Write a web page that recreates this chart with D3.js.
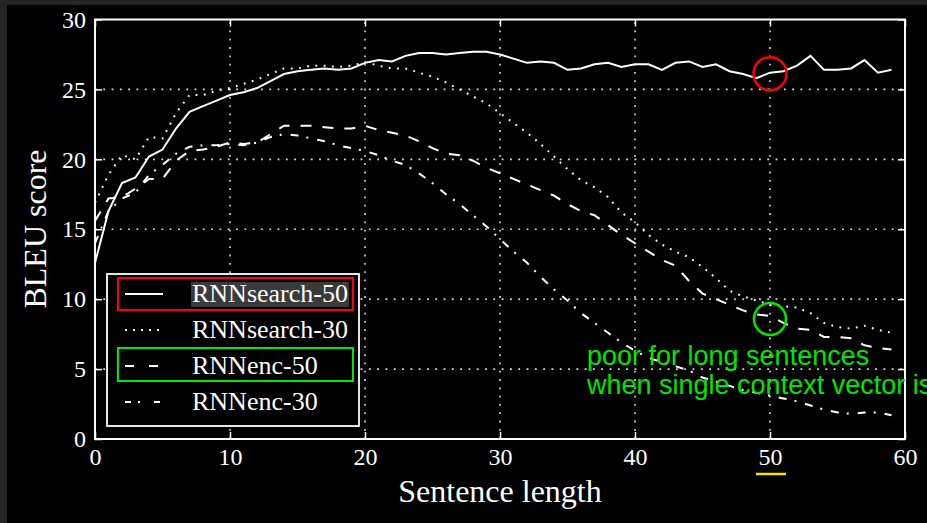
<!DOCTYPE html>
<html lang="en">
<head>
<meta charset="UTF-8">
<title>BLEU score vs sentence length</title>
<script src="https://d3js.org/d3.v7.min.js"></script>
<style>
  html, body { margin: 0; padding: 0; background: #252525; }
  svg { display: block; }
  .tick text { font-family: "Liberation Serif", serif; fill: #fff; }
</style>
</head>
<body>
<script>
// sentence lengths 0..59 and BLEU scores
const sentenceLength = d3.range(0, 60);
const rnnsearch50 = [12.6, 16.3, 18.3, 18.7, 20.2, 20.7, 22.2, 23.4, 23.8, 24.2,
  24.6, 24.8, 25.1, 25.6, 26.1, 26.3, 26.4, 26.5, 26.4, 26.5,
  26.9, 27.1, 27.0, 27.4, 27.6, 27.6, 27.5, 27.6, 27.7, 27.7,
  27.5, 27.2, 26.9, 27.0, 26.9, 26.4, 26.5, 26.8, 26.9, 26.6,
  26.8, 26.8, 26.4, 26.9, 27.0, 26.6, 26.8, 26.3, 26.1, 25.8,
  26.2, 26.3, 26.7, 27.4, 26.4, 26.4, 26.5, 27.1, 26.2, 26.4];
const rnnsearch30 = [16.9, 18.9, 20.3, 20.0, 21.6, 21.5, 23.3, 24.6, 24.6, 24.9,
  25.1, 25.4, 25.7, 26.1, 26.5, 26.5, 26.7, 26.7, 26.6, 26.7,
  26.95, 26.7, 26.5, 26.5, 26.2, 25.9, 25.5, 25.0, 24.5, 24.0,
  23.3, 22.6, 21.9, 21.1, 20.2, 19.3, 18.5, 18.0, 17.3, 16.2,
  15.5, 14.6, 13.9, 13.4, 13.0, 12.3, 11.5, 10.6, 10.2, 9.9,
  9.6, 9.5, 9.4, 9.0, 8.3, 8.0, 7.9, 8.1, 7.8, 7.6];
const rnnenc50 = [15.6, 17.2, 17.3, 17.9, 18.6, 18.6, 19.9, 20.6, 20.7, 20.9,
  21.2, 21.1, 21.2, 21.8, 22.4, 22.4, 22.4, 22.3, 22.2, 22.2,
  22.4, 22.1, 21.9, 21.7, 21.3, 20.8, 20.4, 20.3, 19.9, 19.4,
  19.0, 18.6, 18.2, 17.8, 17.4, 16.8, 16.3, 16.0, 15.3, 14.6,
  14.0, 13.4, 12.8, 12.4, 11.3, 10.4, 10.0, 9.6, 9.2, 8.9,
  8.8, 8.3, 7.9, 7.8, 7.3, 7.3, 7.2, 6.7, 6.5, 6.4];
const rnnenc30 = [14.0, 16.3, 17.2, 17.6, 18.9, 19.6, 20.4, 20.9, 21.0, 21.0,
  21.1, 21.0, 21.2, 21.6, 21.8, 21.7, 21.5, 21.3, 21.0, 20.8,
  20.6, 20.3, 19.9, 19.6, 19.0, 18.3, 17.5, 16.8, 16.0, 15.2,
  14.3, 13.4, 12.6, 11.6, 10.7, 9.9, 9.0, 8.3, 7.6, 6.9,
  6.3, 5.8, 5.5, 5.2, 4.9, 4.4, 4.1, 3.8, 3.5, 3.3,
  3.1, 2.9, 2.7, 2.4, 2.1, 1.9, 1.8, 1.9, 1.9, 1.7];

const seriesNames = ["RNNsearch-50", "RNNsearch-30", "RNNenc-50", "RNNenc-30"];
const seriesValues = [rnnsearch50, rnnsearch30, rnnenc50, rnnenc30];
const seriesDash = [null, "1.8,6.5", "11,11", "8,8,2,9"];
const legendDash = [null, "2,6", "9,15", "6,7,2,14"];

const xTicks = [0, 10, 20, 30, 40, 50, 60];
const yTicks = [0, 5, 10, 15, 20, 25, 30];

const width = 927, height = 523;
const svg = d3.select("body").append("svg")
  .attr("width", width).attr("height", height);

// black figure area inside a dark grey frame
svg.append("rect").attr("x", 7).attr("y", 5)
  .attr("width", width - 7).attr("height", height - 5).attr("fill", "#000");

const x = d3.scaleLinear().domain([0, 60]).range([95, 905]);
const y = d3.scaleLinear().domain([0, 30]).range([439, 19.5]);

// dotted grid
const grid = svg.append("g").attr("stroke", "#ddd").attr("stroke-width", 1.6)
  .attr("stroke-dasharray", "1.8,6.5");
grid.selectAll(".gx").data(xTicks.slice(1, -1)).join("line")
  .attr("x1", d => x(d)).attr("x2", d => x(d))
  .attr("y1", y(0)).attr("y2", y(30));
grid.selectAll(".gy").data(yTicks.slice(1, -1)).join("line")
  .attr("x1", x(0)).attr("x2", x(60))
  .attr("y1", d => y(d)).attr("y2", d => y(d));

// inward ticks on all four sides
function inward(axis, tx, ty) {
  const g = svg.append("g").attr("transform", `translate(${tx},${ty})`).call(axis);
  g.select(".domain").remove();
  g.selectAll(".tick line").attr("stroke", "#fff").attr("stroke-width", 1.5);
  g.selectAll(".tick text").remove();
}
inward(d3.axisBottom(x).tickValues(xTicks).tickSize(-7), 0, y(0));
inward(d3.axisTop(x).tickValues(xTicks).tickSize(-7), 0, y(30));
inward(d3.axisLeft(y).tickValues(yTicks).tickSize(-7), x(0), 0);
inward(d3.axisRight(y).tickValues(yTicks).tickSize(-7), x(60), 0);

// tick labels
const xLab = svg.append("g").attr("transform", `translate(0,${y(0)})`)
  .call(d3.axisBottom(x).tickValues(xTicks).tickSize(0).tickPadding(9));
xLab.select(".domain").remove();
xLab.selectAll("text").attr("font-size", 24);

const yLab = svg.append("g").attr("transform", `translate(${x(0)},0)`)
  .call(d3.axisLeft(y).tickValues(yTicks).tickSize(0).tickPadding(9));
yLab.select(".domain").remove();
yLab.selectAll("text").attr("font-size", 24);

// series
const line = d3.line().x((d, i) => x(sentenceLength[i])).y(d => y(d));
svg.append("g").selectAll("path").data(seriesValues).join("path")
  .attr("d", d => line(d))
  .attr("fill", "none").attr("stroke", "#fff").attr("stroke-width", 2)
  .attr("stroke-dasharray", (d, i) => seriesDash[i]);

// plot frame
svg.append("rect").attr("x", x(0)).attr("y", y(30))
  .attr("width", x(60) - x(0)).attr("height", y(0) - y(30))
  .attr("fill", "none").attr("stroke", "#fff").attr("stroke-width", 2);

// axis titles
svg.append("text").attr("x", 500).attr("y", 502)
  .attr("text-anchor", "middle").attr("fill", "#fff")
  .attr("font-family", "Liberation Serif, serif").attr("font-size", 32)
  .text("Sentence length");
svg.append("text").attr("transform", "translate(46,229) rotate(-90)")
  .attr("text-anchor", "middle").attr("fill", "#fff")
  .attr("font-family", "Liberation Serif, serif").attr("font-size", 32)
  .text("BLEU score");

// legend
const legend = svg.append("g");
legend.append("rect").attr("x", 107).attr("y", 274).attr("width", 252).attr("height", 152)
  .attr("fill", "#000").attr("stroke", "#fff").attr("stroke-width", 1.8);
legend.append("rect").attr("x", 191).attr("y", 282).attr("width", 158).attr("height", 25)
  .attr("fill", "#3a3a3a");
const rowY = i => 302 + i * 36;
legend.selectAll("line").data(seriesNames).join("line")
  .attr("x1", 125).attr("x2", 163)
  .attr("y1", (d, i) => rowY(i) - 8).attr("y2", (d, i) => rowY(i) - 8)
  .attr("stroke", "#fff").attr("stroke-width", 2)
  .attr("stroke-dasharray", (d, i) => legendDash[i]);
legend.selectAll("text").data(seriesNames).join("text")
  .attr("x", 192).attr("y", (d, i) => rowY(i))
  .attr("fill", "#fff").attr("font-family", "Liberation Serif, serif").attr("font-size", 26)
  .text(d => d);

// annotations
legend.append("rect").attr("x", 118).attr("y", 278).attr("width", 235).attr("height", 32)
  .attr("fill", "none").attr("stroke", "#f00").attr("stroke-width", 2);
legend.append("rect").attr("x", 118).attr("y", 348).attr("width", 235).attr("height", 33)
  .attr("fill", "none").attr("stroke", "#00e600").attr("stroke-width", 2);

svg.append("circle").attr("cx", x(50)).attr("cy", y(rnnsearch50[50]) + 1).attr("r", 16.5)
  .attr("fill", "none").attr("stroke", "#f00").attr("stroke-width", 2.5);
svg.append("circle").attr("cx", x(50)).attr("cy", y(rnnenc50[50]) + 3).attr("r", 16)
  .attr("fill", "none").attr("stroke", "#00e600").attr("stroke-width", 2.5);

const note = svg.append("text").attr("fill", "#00e600")
  .attr("font-family", "Liberation Sans, Arial, sans-serif").attr("font-size", 27);
note.append("tspan").attr("x", 587).attr("y", 365).text("poor for long sentences");
note.append("tspan").attr("x", 587).attr("y", 394).text("when single context vector is");

svg.append("line").attr("x1", 756).attr("x2", 786).attr("y1", 474).attr("y2", 474)
  .attr("stroke", "#f2e600").attr("stroke-width", 2.5);
</script>
</body>
</html>
